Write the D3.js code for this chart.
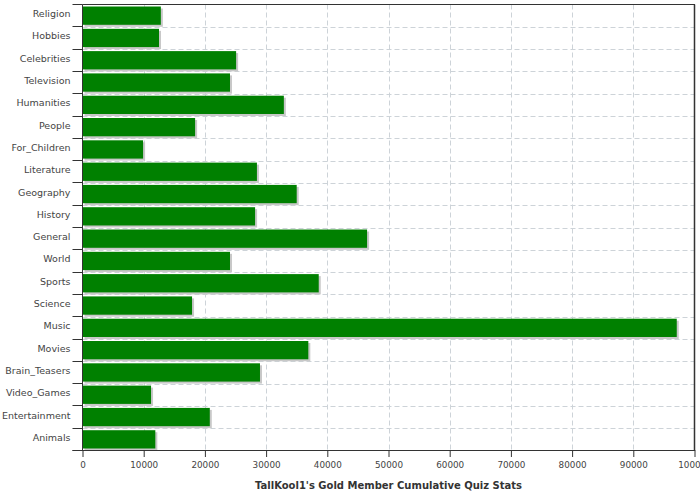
<!DOCTYPE html>
<html>
<head>
<meta charset="utf-8">
<script src="https://cdn.jsdelivr.net/npm/d3@7"></script>
<style>
  body { margin: 0; background: #fff; }
  svg { display: block; }
  text { font-family: "DejaVu Sans", sans-serif; }
</style>
</head>
<body>
<svg id="chart" width="700" height="500"></svg>
<script>
const categories = ["Religion", "Hobbies", "Celebrities", "Television", "Humanities", "People",
  "For_Children", "Literature", "Geography", "History", "General", "World", "Sports", "Science",
  "Music", "Movies", "Brain_Teasers", "Video_Games", "Entertainment", "Animals"];
const values = [12800, 12500, 25100, 24100, 32900, 18400, 9900, 28500, 35000, 28200,
  46500, 24100, 38600, 17900, 97100, 36900, 29000, 11200, 20800, 11900];
const xTicks = [0, 10000, 20000, 30000, 40000, 50000, 60000, 70000, 80000, 90000, 100000];
const xTitle = "TallKool1's Gold Member Cumulative Quiz Stats";

const data = categories.map((c, i) => ({ cat: c, val: values[i] }));

const svg = d3.select("#chart");
const pLeft = 82.5, pRight = 694.5, pTop = 4.5, pBottom = 450.5;

const x = d3.scaleLinear().domain([0, 100000]).range([pLeft, pRight]);
const y = d3.scaleBand().domain(categories).range([pTop, pBottom])
  .paddingInner(0.18).paddingOuter(0.09);
const step = y.step();

// gridlines
const grid = svg.append("g");
grid.selectAll("line.v").data(xTicks.slice(1, -1)).join("line")
  .attr("x1", d => Math.round(x(d)) + 0.5).attr("x2", d => Math.round(x(d)) + 0.5)
  .attr("y1", pTop).attr("y2", pBottom)
  .attr("stroke", "#cdd3d8").attr("stroke-width", 1).attr("stroke-dasharray", "5,3");
const bounds = d3.range(1, categories.length).map(i => pTop + i * step);
grid.selectAll("line.h").data(bounds).join("line")
  .attr("x1", pLeft).attr("x2", pRight)
  .attr("y1", d => Math.round(d) + 0.5).attr("y2", d => Math.round(d) + 0.5)
  .attr("stroke", "#cdd3d8").attr("stroke-width", 1).attr("stroke-dasharray", "5,3");

// bars with shadows
const bars = svg.append("g");
bars.selectAll("rect.sh").data(data).join("rect")
  .attr("x", x(0) + 2).attr("y", d => y(d.cat) + 2)
  .attr("width", d => x(d.val) - x(0)).attr("height", y.bandwidth())
  .attr("fill", "#c8c8c8");
bars.selectAll("rect.b").data(data).join("rect")
  .attr("x", x(0)).attr("y", d => y(d.cat))
  .attr("width", d => x(d.val) - x(0)).attr("height", y.bandwidth())
  .attr("fill", "#008000");

// plot border
svg.append("line").attr("x1", pLeft).attr("x2", pRight + 0.5).attr("y1", pTop).attr("y2", pTop)
  .attr("stroke", "#333").attr("stroke-width", 1);
svg.append("line").attr("x1", pRight).attr("x2", pRight).attr("y1", pTop).attr("y2", pBottom)
  .attr("stroke", "#333").attr("stroke-width", 1.5);

// x axis
const xAxis = d3.axisBottom(x).tickValues(xTicks).tickFormat(d3.format("d"))
  .tickSize(7).tickPadding(5).tickSizeOuter(0);
const gx = svg.append("g").attr("transform", `translate(0,${pBottom - 0.5})`).call(xAxis);
gx.select(".domain").attr("stroke", "#333").attr("d", `M${pLeft - 10},0.5H${pRight + 0.5}`);
gx.selectAll(".tick line").attr("stroke", "#333");
gx.selectAll(".tick text").attr("fill", "#444").attr("font-size", "8.8px")
  .attr("font-family", "DejaVu Sans, sans-serif");

// y axis
const gy = svg.append("g");
gy.append("line").attr("x1", pLeft).attr("x2", pLeft).attr("y1", pTop).attr("y2", pBottom)
  .attr("stroke", "#333");
gy.selectAll("line.t").data(d3.range(0, categories.length + 1)).join("line")
  .attr("x1", pLeft - 10).attr("x2", pLeft)
  .attr("y1", i => Math.round(pTop + i * step - 0.5) + 0.5).attr("y2", i => Math.round(pTop + i * step - 0.5) + 0.5)
  .attr("stroke", "#333");
gy.selectAll("text").data(data).join("text")
  .attr("x", 70.5).attr("y", d => y(d.cat) + y.bandwidth() / 2 - 2)
  .attr("text-anchor", "end").attr("dominant-baseline", "central")
  .attr("fill", "#444").attr("font-size", "9.5px")
  .text(d => d.cat);

// axis title
svg.append("text").attr("x", (pLeft + pRight) / 2).attr("y", 489)
  .attr("text-anchor", "middle").attr("font-weight", "bold").attr("font-size", "10px")
  .attr("fill", "#333")
  .text(xTitle);
</script>
</body>
</html>
